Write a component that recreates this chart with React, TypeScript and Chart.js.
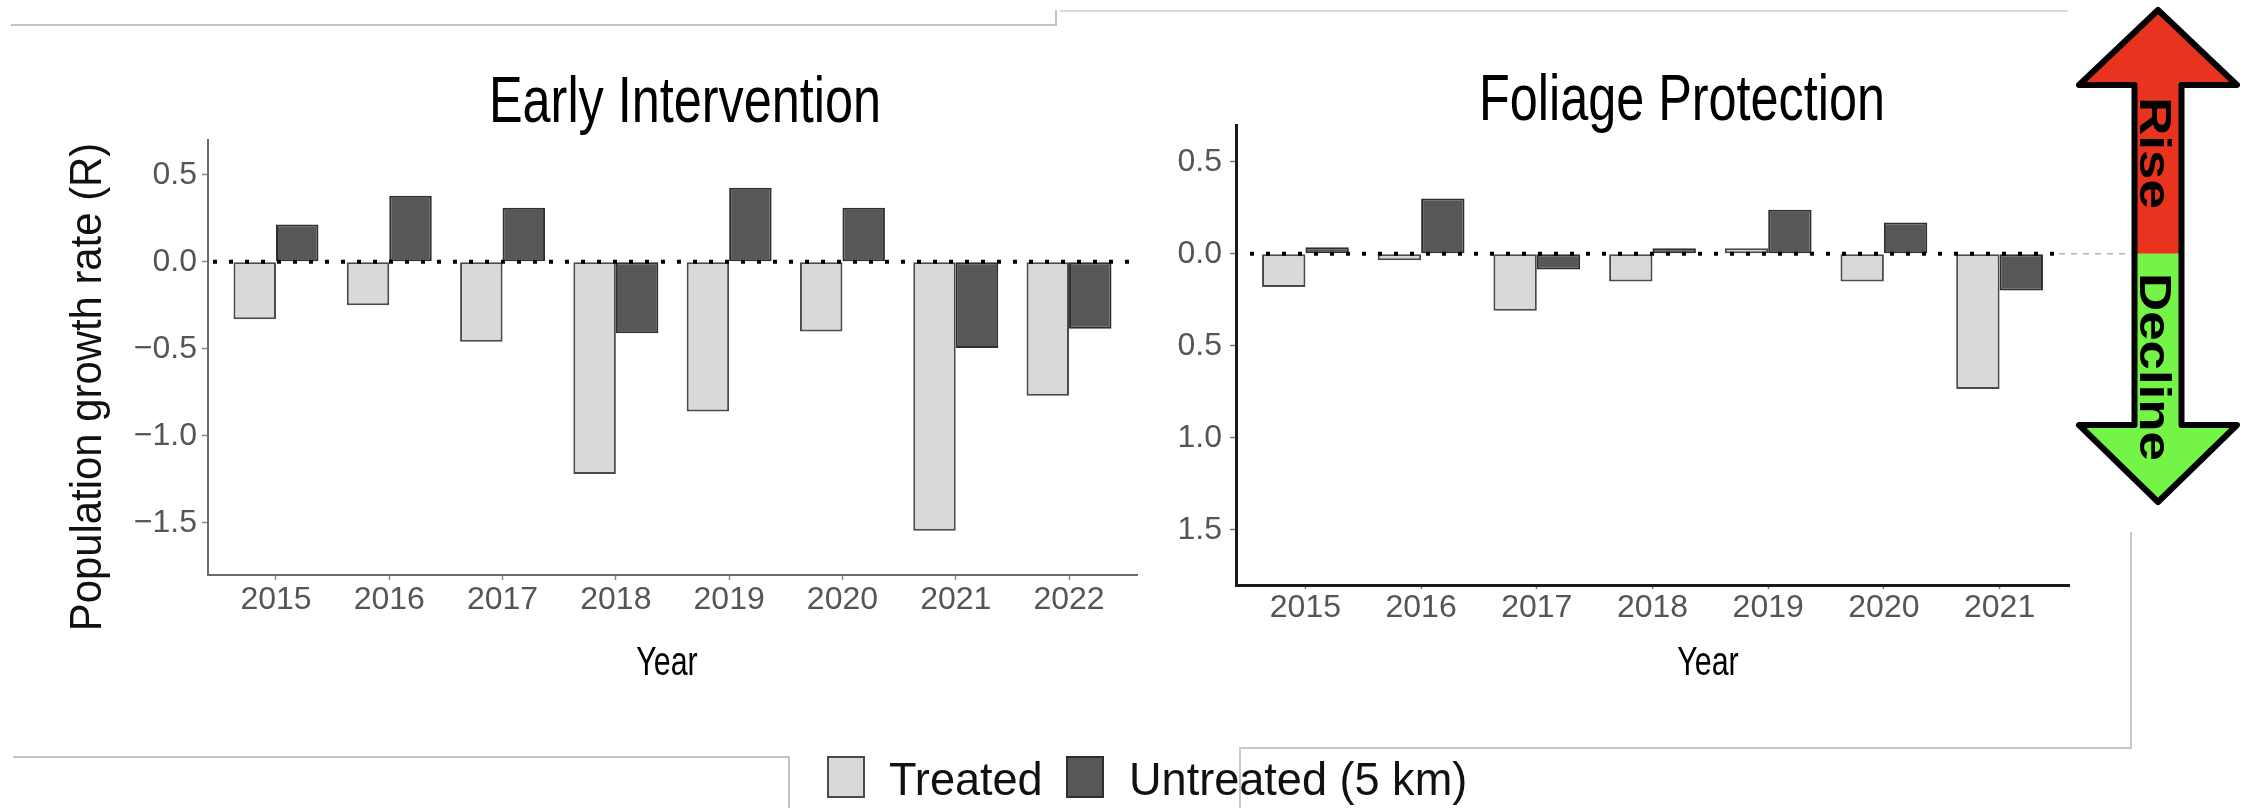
import React, { useEffect, useRef } from 'react';
import { Chart, registerables } from 'chart.js';

Chart.register(...registerables);

// ---------- data ----------
const leftYears = ['2015', '2016', '2017', '2018', '2019', '2020', '2021', '2022'];
const leftTreated = [-0.33, -0.25, -0.46, -1.22, -0.86, -0.4, -1.545, -0.77];
const leftUntreated = [0.215, 0.38, 0.31, -0.41, 0.425, 0.31, -0.495, -0.385];

const rightYears = ['2015', '2016', '2017', '2018', '2019', '2020', '2021'];
const rightTreated = [-0.18, -0.035, -0.31, -0.15, 0.03, -0.15, -0.735];
const rightUntreated = [0.035, 0.3, -0.085, 0.03, 0.24, 0.17, -0.2];

const yTickValues = [-1.5, -1.0, -0.5, 0.0, 0.5];
const seriesLabels = ['Treated', 'Untreated (5 km)'];
const leftTitle = 'Early Intervention';
const rightTitle = 'Foliage Protection';
const xAxisTitle = 'Year';
const yAxisTitle = 'Population growth rate (R)';
const arrowUpLabel = 'Rise';
const arrowDownLabel = 'Decline';

// ---------- styles ----------
const W = 2249;
const H = 808;
const FONT = "'Liberation Sans', Arial, Helvetica, sans-serif";
const TREATED_FILL = '#d9d9d9';
const TREATED_EDGE = '#4a4a4a';
const UNTREATED_FILL = '#575757';
const UNTREATED_EDGE = '#2e2e2e';
const TICK_TEXT = '#555555';

type TextOpts = {
  size: number;
  weight?: string;
  sx?: number;
  align?: CanvasTextAlign;
  color?: string;
  rotate?: number;
};

function drawText(ctx: CanvasRenderingContext2D, text: string, x: number, y: number, o: TextOpts) {
  ctx.save();
  ctx.translate(x, y);
  if (o.rotate) ctx.rotate(o.rotate);
  ctx.scale(o.sx ?? 1, 1);
  ctx.font = `${o.weight ?? 'normal'} ${o.size}px ${FONT}`;
  ctx.fillStyle = o.color ?? '#000';
  ctx.textAlign = o.align ?? 'center';
  ctx.textBaseline = 'alphabetic';
  ctx.fillText(text, 0, 0);
  ctx.restore();
}

function line(ctx: CanvasRenderingContext2D, pts: number[][], color: string, width: number) {
  ctx.save();
  ctx.strokeStyle = color;
  ctx.lineWidth = width;
  ctx.beginPath();
  pts.forEach((p, i) => (i === 0 ? ctx.moveTo(p[0], p[1]) : ctx.lineTo(p[0], p[1])));
  ctx.stroke();
  ctx.restore();
}

type PanelOpts = {
  years: string[];
  treated: number[];
  untreated: number[];
  area: { left: number; right: number; top: number; bottom: number };
  axisColor: string;
  axisWidth: number;
  tickColor: string;
  xTickLen: number;
  xTickPad: number;
  yTickPad: number;
  yFormat: (v: number) => string;
  plugins: any[];
};

function makeConfig(p: PanelOpts): any {
  const tickFont = { family: FONT, size: 32 };
  return {
    type: 'bar',
    data: {
      datasets: [
        {
          label: seriesLabels[0],
          data: p.treated.map((v, i) => ({ x: i, y: v })),
          backgroundColor: TREATED_FILL,
          borderColor: TREATED_EDGE,
          borderWidth: 2,
          borderSkipped: false,
          categoryPercentage: 0.75,
          barPercentage: 1,
        },
        {
          label: seriesLabels[1],
          data: p.untreated.map((v, i) => ({ x: i, y: v })),
          backgroundColor: UNTREATED_FILL,
          borderColor: UNTREATED_EDGE,
          borderWidth: 2,
          borderSkipped: false,
          categoryPercentage: 0.75,
          barPercentage: 1,
        },
      ],
    },
    options: {
      responsive: false,
      animation: false,
      devicePixelRatio: 1,
      events: [],
      layout: {
        padding: {
          left: p.area.left - 100,
          right: W - p.area.right,
          top: p.area.top,
          bottom: H - p.area.bottom - 100,
        },
      },
      plugins: {
        legend: { display: false },
        tooltip: { enabled: false },
        title: { display: false },
      },
      scales: {
        x: {
          type: 'linear',
          min: -0.6,
          max: p.years.length - 0.4,
          offset: false,
          afterFit: (s: any) => {
            s.height = 100;
          },
          afterBuildTicks: (s: any) => {
            s.ticks = p.years.map((_, i) => ({ value: i }));
          },
          ticks: {
            callback: (v: number) => p.years[v],
            autoSkip: false,
            maxRotation: 0,
            minRotation: 0,
            padding: p.xTickPad,
            color: TICK_TEXT,
            font: tickFont,
          },
          grid: {
            display: true,
            drawOnChartArea: false,
            offset: false,
            tickLength: p.xTickLen,
            tickColor: p.tickColor,
            tickWidth: 1.5,
            color: p.tickColor,
          },
          border: { display: true, color: p.axisColor, width: p.axisWidth },
        },
        y: {
          type: 'linear',
          min: -1.8,
          max: 0.7,
          afterFit: (s: any) => {
            s.width = 100;
          },
          afterBuildTicks: (s: any) => {
            s.ticks = yTickValues.map((v) => ({ value: v }));
          },
          ticks: {
            callback: (v: number) => p.yFormat(v),
            padding: p.yTickPad,
            color: TICK_TEXT,
            font: tickFont,
          },
          grid: {
            display: true,
            drawOnChartArea: false,
            tickLength: 6,
            tickColor: p.tickColor,
            tickWidth: 1.5,
            color: p.tickColor,
          },
          border: { display: true, color: p.axisColor, width: p.axisWidth },
        },
      },
    },
    plugins: p.plugins,
  };
}

function zeroLinePlugin(id: string, startInset: number, endInset: number, extendTo?: number): any {
  return {
    id,
    afterDatasetsDraw(chart: any) {
      const ctx: CanvasRenderingContext2D = chart.ctx;
      const a = chart.chartArea;
      const y = chart.scales.y.getPixelForValue(0);
      ctx.save();
      ctx.strokeStyle = '#000';
      ctx.lineWidth = 4;
      ctx.setLineDash([4, 12]);
      ctx.beginPath();
      ctx.moveTo(a.left + startInset, y);
      ctx.lineTo(a.right - endInset, y);
      ctx.stroke();
      if (extendTo) {
        ctx.strokeStyle = '#b5b5b5';
        ctx.lineWidth = 1.5;
        ctx.setLineDash([6, 6]);
        ctx.beginPath();
        ctx.moveTo(a.right - endInset + 4, y);
        ctx.lineTo(extendTo, y);
        ctx.stroke();
      }
      ctx.restore();
    },
  };
}

const leftDecorPlugin: any = {
  id: 'leftDecor',
  afterDraw(chart: any) {
    const ctx: CanvasRenderingContext2D = chart.ctx;
    // frame lines of the composed figure
    line(ctx, [[11, 25], [1056, 25], [1056, 10]], '#c4c4c4', 2);
    line(ctx, [[1060, 11], [2068, 11]], '#dadada', 2);
    line(ctx, [[13, 757], [789, 757], [789, 808]], '#c4c4c4', 2);
    line(ctx, [[1240, 808], [1240, 748], [2131, 748], [2131, 532]], '#c8c8c8', 2);

    // titles
    drawText(ctx, leftTitle, 685, 122, { size: 65, sx: 0.775 });
    drawText(ctx, xAxisTitle, 667, 675, { size: 40, sx: 0.76 });
    drawText(ctx, yAxisTitle, 101, 387, { size: 45, sx: 0.93, rotate: -Math.PI / 2, color: '#111' });

    // legend
    const ds = chart.data.datasets;
    const keys = [
      { x: 827, textX: 889 },
      { x: 1066, textX: 1129 },
    ];
    keys.forEach((k, i) => {
      ctx.save();
      ctx.fillStyle = ds[i].backgroundColor;
      ctx.strokeStyle = ds[i].borderColor;
      ctx.lineWidth = 2;
      ctx.fillRect(k.x, 756, 38, 42);
      ctx.strokeRect(k.x + 1, 757, 36, 40);
      ctx.restore();
      drawText(ctx, ds[i].label, k.textX, 795, { size: 46, sx: 0.98, align: 'left', color: '#111' });
    });
  },
};

const rightDecorPlugin: any = {
  id: 'rightDecor',
  afterDraw(chart: any) {
    const ctx: CanvasRenderingContext2D = chart.ctx;
    drawText(ctx, rightTitle, 1682, 120, { size: 65, sx: 0.775 });
    drawText(ctx, xAxisTitle, 1708, 675, { size: 40, sx: 0.76 });

    // rise / decline double arrow
    const zeroY = chart.scales.y.getPixelForValue(0);
    const cx = 2158;
    const top = 10;
    const bot = 502;
    const headTop = 85;
    const headBot = 425;
    const wingL = 2079;
    const wingR = 2237;
    const shaftL = 2134.5;
    const shaftR = 2181.5;
    const path = () => {
      ctx.beginPath();
      ctx.moveTo(cx, top);
      ctx.lineTo(wingR, headTop);
      ctx.lineTo(shaftR, headTop);
      ctx.lineTo(shaftR, headBot);
      ctx.lineTo(wingR, headBot);
      ctx.lineTo(cx, bot);
      ctx.lineTo(wingL, headBot);
      ctx.lineTo(shaftL, headBot);
      ctx.lineTo(shaftL, headTop);
      ctx.lineTo(wingL, headTop);
      ctx.closePath();
    };
    ctx.save();
    path();
    ctx.clip();
    ctx.fillStyle = '#e8341f';
    ctx.fillRect(2060, 0, 190, zeroY);
    ctx.fillStyle = '#74f447';
    ctx.fillRect(2060, zeroY, 190, 520 - zeroY);
    ctx.restore();
    ctx.save();
    path();
    ctx.lineWidth = 6;
    ctx.lineJoin = 'round';
    ctx.strokeStyle = '#000';
    ctx.stroke();
    ctx.restore();

    drawText(ctx, arrowUpLabel, 2140, 153, { size: 44, weight: 'bold', sx: 1.2, rotate: Math.PI / 2 });
    drawText(ctx, arrowDownLabel, 2140, 367, { size: 44, weight: 'bold', sx: 1.2, rotate: Math.PI / 2 });
  },
};

export default function App() {
  const leftRef = useRef<HTMLCanvasElement>(null);
  const rightRef = useRef<HTMLCanvasElement>(null);

  useEffect(() => {
    const left = new Chart(
      leftRef.current as HTMLCanvasElement,
      makeConfig({
        years: leftYears,
        treated: leftTreated,
        untreated: leftUntreated,
        area: { left: 208, right: 1137, top: 140, bottom: 575 },
        axisColor: '#6a6a6a',
        axisWidth: 2,
        tickColor: '#8a8a8a',
        xTickLen: 5,
        xTickPad: 1,
        yTickPad: 5,
        yFormat: (v) => (v < 0 ? '\u2212' : '') + Math.abs(v).toFixed(1),
        plugins: [zeroLinePlugin('zeroLeft', 5, 2), leftDecorPlugin],
      })
    );
    const right = new Chart(
      rightRef.current as HTMLCanvasElement,
      makeConfig({
        years: rightYears,
        treated: rightTreated,
        untreated: rightUntreated,
        area: { left: 1236, right: 2069, top: 125, bottom: 585 },
        axisColor: '#1a1a1a',
        axisWidth: 3,
        tickColor: '#777777',
        xTickLen: 4,
        xTickPad: 0,
        yTickPad: 8,
        yFormat: (v) => Math.abs(v).toFixed(1),
        plugins: [zeroLinePlugin('zeroRight', 14, 14, 2132), rightDecorPlugin],
      })
    );
    return () => {
      left.destroy();
      right.destroy();
    };
  }, []);

  const canvasStyle: React.CSSProperties = { position: 'absolute', left: 0, top: 0, width: W, height: H };
  return (
    <div style={{ position: 'absolute', left: 0, top: 0, width: W, height: H, background: '#fff', overflow: 'hidden' }}>
      <canvas ref={leftRef} width={W} height={H} style={canvasStyle} />
      <canvas ref={rightRef} width={W} height={H} style={canvasStyle} />
    </div>
  );
}
